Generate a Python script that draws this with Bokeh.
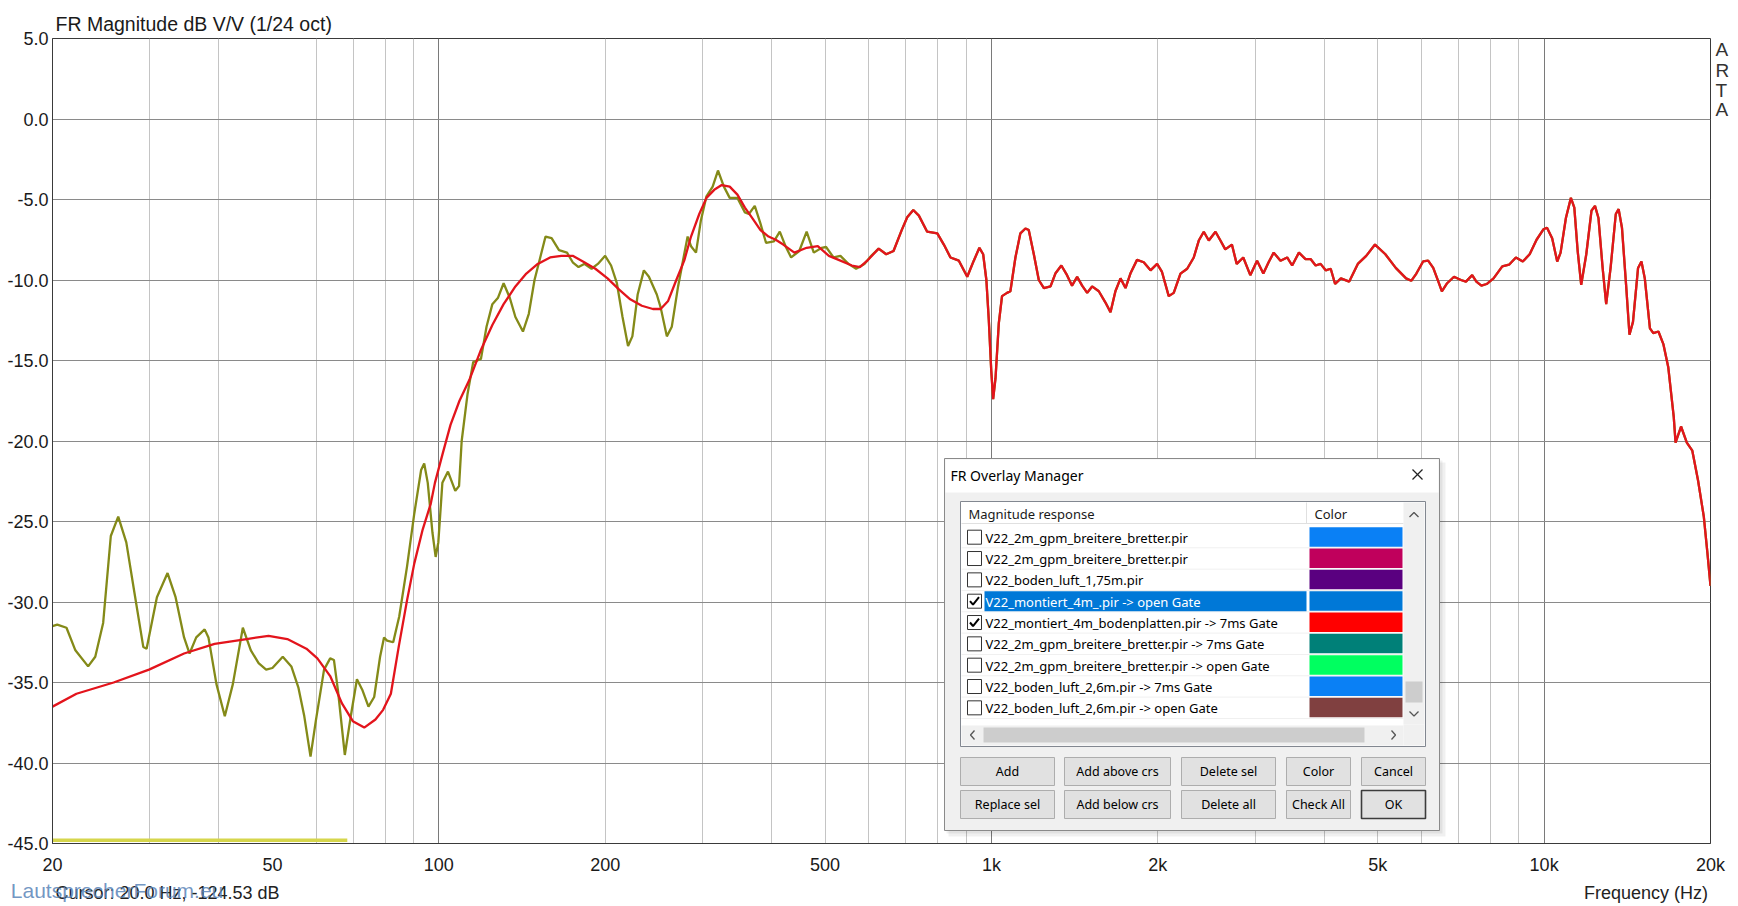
from bokeh.plotting import figure
from bokeh.models import FixedTicker, LinearAxis, LogAxis
from bokeh.core.properties import value
from bokeh.embed import file_html
from bokeh.resources import INLINE

# ---------------- data ----------------
# open-gate measurement (olive), low-frequency part
open_freq = [20, 20.4, 21.2, 22, 23.2, 23.9, 24.7, 25.5, 26.3, 27.2, 28.1, 29.2, 29.6, 30.9, 32.3,
             33.4, 34.6, 35.4, 36.4, 37.7, 38.3, 39.6, 41.0, 42.4, 44.2, 45.7, 47.2, 48.7, 50.0,
             52.2, 54.1, 55.7, 57.1, 58.6, 59.9, 62.0, 63.6, 64.6, 65.7, 67.6, 69.3, 71.1, 72.8,
             74.6, 76.4, 78.3, 79.6, 80.6, 82.7, 84.8, 87.6, 90.3, 92.9, 94.1, 95.5, 97.4, 98.7,
             99.8, 101.5, 103.9, 107.1, 108.8, 110, 112.7, 115.4, 119.2, 122, 125, 128, 131,
             134.4, 137.6, 142, 145.5, 149, 152.6, 156, 160, 165, 170.6, 174.7, 179, 183.3, 189,
             194, 200, 205, 210, 215, 220, 224, 229, 235, 240, 248, 252, 258.6, 264, 271, 278,
             282, 286, 292, 298, 305, 313, 320, 328, 336, 347, 358, 364, 373, 382, 391, 404, 414,
             424, 434, 449, 463, 477, 493, 502, 518, 533, 551, 569, 589, 606]
open_db = [-31.5, -31.4, -31.6, -33.0, -34.0, -33.4, -31.3, -25.9, -24.7, -26.3, -29.3, -32.8, -32.9,
           -29.7, -28.2, -29.7, -32.2, -33.2, -32.2, -31.7, -32.2, -35.1, -37.1, -35.1, -31.6,
           -33.0, -33.8, -34.2, -34.1, -33.4, -34.0, -35.3, -37.1, -39.6, -37.4, -34.2, -33.5,
           -33.6, -35.5, -39.5, -37.1, -34.8, -35.5, -36.5, -35.9, -33.4, -32.2, -32.4, -32.5,
           -30.9, -27.8, -24.5, -21.8, -21.4, -22.6, -25.7, -27.2, -26.3, -22.6, -21.9, -23.1,
           -22.8, -20.0, -17.1, -15.1, -14.9, -12.9, -11.5, -11.1, -10.2, -11.1, -12.3, -13.2,
           -12.1, -10.0, -8.6, -7.3, -7.4, -8.15, -8.3, -8.9, -9.2, -9.0, -9.3, -9.0, -8.5, -9.1,
           -10.2, -12.3, -14.1, -13.5, -10.9, -9.4, -9.8, -10.9, -11.7, -13.5, -12.9, -10.4,
           -8.4, -7.3, -7.9, -8.3, -6.3, -4.8, -4.2, -3.2, -4.2, -4.9, -4.9, -5.8, -5.9, -5.4,
           -6.5, -7.7, -7.6, -7.0, -7.9, -8.6, -8.2, -7.0, -8.3, -8.0, -7.95, -8.6, -8.5, -9.0,
           -9.3, -9.0, -8.5]

# 7 ms gated measurement (red), low-frequency part
gated_freq = [20, 22.1, 25.8, 29.9, 34.6, 39.3, 44.9, 49.2, 53.2, 57.6, 60.3, 63.6, 66.8, 69.9,
              73.3, 76.8, 79.3, 81.9, 84.6, 87.6, 90.3, 93.5, 96.7, 98.4, 101.6, 105, 109, 113.6,
              119, 125, 131, 137.6, 144, 151, 159, 166.6, 174.7, 183.3, 192, 202, 212, 222, 233,
              244, 252, 260, 269, 278, 286, 296, 305, 315, 325, 336, 347, 358, 370, 382, 395, 407,
              420, 440, 463, 485, 508, 533, 559, 578, 596]
gated_db = [-36.5, -35.7, -35.0, -34.2, -33.2, -32.6, -32.3, -32.1, -32.3, -32.9, -33.5, -34.6, -36.3,
            -37.4, -37.8, -37.3, -36.7, -35.7, -32.8, -29.9, -27.6, -25.5, -23.9, -22.6, -20.8,
            -19.0, -17.5, -16.2, -14.4, -12.8, -11.5, -10.4, -9.6, -9.0, -8.6, -8.5, -8.5, -8.9,
            -9.3, -9.9, -10.6, -11.2, -11.6, -11.8, -11.8, -11.3, -10.0, -8.8, -7.3, -5.9, -4.9,
            -4.4, -4.1, -4.2, -4.7, -5.5, -6.2, -6.9, -7.3, -7.5, -7.8, -8.3, -8.0, -7.9, -8.5,
            -8.8, -9.1, -9.2, -8.8]

# above ~600 Hz both measurements coincide
common_freq = [625, 645, 665, 688, 704, 722, 739, 765, 798, 820, 843, 873, 904, 929, 951, 966, 979,
               989, 999, 1007, 1017, 1031, 1045, 1067, 1082, 1105, 1128, 1152, 1168, 1193, 1218,
               1244, 1279, 1305, 1338, 1370, 1399, 1429, 1459, 1490, 1521, 1564, 1608, 1642, 1676,
               1712, 1748, 1784, 1834, 1886, 1940, 1994, 2035, 2093, 2137, 2198, 2260, 2323, 2372,
               2422, 2473, 2543, 2596, 2649, 2723, 2778, 2855, 2940, 3024, 3104, 3173, 3241, 3334,
               3428, 3500, 3600, 3700, 3779, 3860, 3940, 4025, 4110, 4186, 4288, 4440, 4601, 4765,
               4943, 5161, 5389, 5626, 5748, 5873, 6039, 6168, 6300, 6436, 6531, 6676, 6870, 7070,
               7220, 7410, 7540, 7700, 7870, 8100, 8400, 8640, 8890, 9150, 9415, 9690, 9970, 10120,
               10340, 10560, 10710, 10950, 11180, 11340, 11500, 11670, 11920, 12180, 12360, 12540,
               12760, 12950, 13190, 13480, 13640, 13830, 14070, 14270, 14480, 14790, 15000, 15210,
               15540, 15760, 16100, 16440, 16770, 17160, 17290, 17690, 18120, 18540, 18990, 19450,
               19750, 20000]
common_db = [-8.05, -8.4, -8.2, -6.9, -6.1, -5.65, -6.0, -7.0, -7.1, -7.8, -8.6, -8.8, -9.8, -8.8,
             -8.0, -8.4, -10.0, -12.5, -15.6, -17.4, -16.1, -12.7, -11.0, -10.8, -10.7, -8.6,
             -7.1, -6.8, -6.9, -8.4, -10.0, -10.5, -10.4, -9.6, -9.1, -9.7, -10.35, -9.8, -10.35,
             -10.8, -10.4, -10.7, -11.4, -12.0, -10.7, -9.9, -10.5, -9.6, -8.75, -8.9, -9.4, -9.0,
             -9.5, -11.0, -10.8, -9.6, -9.3, -8.6, -7.55, -7.0, -7.55, -7.0, -7.55, -8.1, -7.8,
             -9.0, -8.6, -9.7, -8.8, -9.6, -8.9, -8.3, -8.8, -8.6, -9.1, -8.3, -8.7, -8.7, -9.1,
             -9.0, -9.4, -9.3, -10.25, -9.9, -10.1, -9.0, -8.5, -7.8, -8.4, -9.25, -9.9, -10.05,
             -9.6, -8.85, -8.8, -9.25, -10.1, -10.7, -10.2, -9.8, -10.0, -10.1, -9.7, -10.1,
             -10.35, -10.25, -9.9, -9.15, -9.05, -8.6, -8.85, -8.4, -7.5, -6.85, -6.75, -7.4,
             -8.85, -8.3, -6.15, -4.9, -5.5, -8.2, -10.3, -8.4, -5.7, -5.4, -6.15, -9.25, -11.5,
             -9.25, -5.9, -5.6, -6.75, -10.3, -13.4, -12.6, -9.25, -8.85, -9.9, -13.0, -13.3,
             -13.2, -14.0, -15.4, -18.5, -20.1, -19.1, -20.1, -20.6, -22.45, -24.7, -27.0, -29.0]

# noise-floor marker at the bottom
floor_freq = [20, 68.3]
floor_db = [-44.8, -44.8]

x_ticks = [20, 50, 100, 200, 500, 1000, 2000, 5000, 10000, 20000]
x_tick_labels = ["20", "50", "100", "200", "500", "1k", "2k", "5k", "10k", "20k"]
decade_lines = [100, 1000, 10000]
minor_lines = [30, 40, 60, 70, 80, 90, 200, 300, 400, 500, 600, 700, 800, 900,
               2000, 3000, 4000, 5000, 6000, 7000, 8000, 9000, 20000]
y_ticks = [-45, -40, -35, -30, -25, -20, -15, -10, -5, 0, 5]

title_text = "FR Magnitude dB V/V (1/24 oct)"
x_axis_title = "Frequency (Hz)"
cursor_text = "Cursor: 20.0 Hz, -124.53 dB"
brand_letters = ["A", "R", "T", "A"]
watermark_text = "LautsprecherForum.eu"

overlay_names = ["V22_2m_gpm_breitere_bretter.pir",
                 "V22_2m_gpm_breitere_bretter.pir",
                 "V22_boden_luft_1,75m.pir",
                 "V22_montiert_4m_.pir -> open Gate",
                 "V22_montiert_4m_bodenplatten.pir -> 7ms Gate",
                 "V22_2m_gpm_breitere_bretter.pir -> 7ms Gate",
                 "V22_2m_gpm_breitere_bretter.pir -> open Gate",
                 "V22_boden_luft_2,6m.pir -> 7ms Gate",
                 "V22_boden_luft_2,6m.pir -> open Gate"]
overlay_checked = [False, False, False, True, True, False, False, False, False]
overlay_colors = ["#0a80f5", "#c0005c", "#5a0080", "#0078d7", "#ff0000",
                  "#008078", "#00ff60", "#0a80f5", "#804040"]
selected_row = 3
buttons_row1 = ["Add", "Add above crs", "Delete sel", "Color", "Cancel"]
buttons_row2 = ["Replace sel", "Add below crs", "Delete all", "Check All", "OK"]

# ---------------- figure ----------------
FL, FR, FT, FB = 52.0, 1710.0, 38.0, 843.0   # frame edges in page pixels
FW, FH = FR - FL, FB - FT


def fx(px):
    return 20.0 * 1000.0 ** ((px - FL) / FW)


def fy(py):
    return 5.0 - (py - FT) / FH * 50.0


p = figure(frame_width=int(FW), frame_height=int(FH), x_axis_type="log",
           x_range=(20, 20000), y_range=(-45, 5),
           output_backend="svg", toolbar_location=None,
           min_border_left=52, min_border_top=38, min_border_right=20, min_border_bottom=40,
           background_fill_color="white", border_fill_color="white")

p.outline_line_color = "#3a3a3a"
p.outline_line_width = 1

AX_FONT = "Liberation Sans"

# title (left aligned above the frame)
p.title.text = title_text
p.title.align = "left"
p.title.offset = 3
p.title.standoff = 7
p.title.text_font = AX_FONT
p.title.text_font_size = "19.5px"
p.title.text_font_style = "normal"
p.title.text_color = "#1a1a1a"


def style_axis(ax, size="18px", color="#1a1a1a"):
    ax.major_tick_line_color = None
    ax.minor_tick_line_color = None
    ax.major_tick_out = 0
    ax.major_tick_in = 0
    ax.minor_tick_out = 0
    ax.minor_tick_in = 0
    ax.major_label_text_font = AX_FONT
    ax.major_label_text_font_size = size
    ax.major_label_text_color = color


for ax in (p.xaxis[0], p.yaxis[0]):
    style_axis(ax)
    ax.axis_line_color = "#3a3a3a"

p.xaxis.ticker = FixedTicker(ticks=x_ticks)
p.xaxis.major_label_overrides = {t: l for t, l in zip(x_ticks, x_tick_labels)}
p.xaxis.major_label_standoff = 11
p.yaxis.ticker = FixedTicker(ticks=y_ticks)
p.yaxis.major_label_overrides = {t: f"{t:.1f}" for t in y_ticks}
p.yaxis.major_label_standoff = 4

# second row below the frame: cursor read-out (left) and axis name (right)
cursor_pos = round(fx(167.0), 2)
xname_pos = round(fx(1645.5), 1)
ax2 = LogAxis(ticker=FixedTicker(ticks=[cursor_pos, xname_pos]),
              major_label_overrides={cursor_pos: cursor_text, xname_pos: x_axis_title},
              axis_line_color=None, major_label_standoff=5)
style_axis(ax2, color="#222222")
p.add_layout(ax2, "below")

# forum watermark, drawn over the same row (pulled up with a negative standoff)
mark_pos = round(fx(116.5), 2)
ax3 = LogAxis(ticker=FixedTicker(ticks=[mark_pos]),
              major_label_overrides={mark_pos: watermark_text},
              axis_line_color=None, major_label_standoff=-27)
style_axis(ax3, size="21px", color="#5a84b8")
ax3.major_label_text_alpha = 0.85
p.add_layout(ax3, "below")

# vertical "ARTA" mark at the right of the frame
arta_pos = [round(fy(v), 2) for v in (49.5, 69.5, 89.5, 109.5)]
ax_r = LinearAxis(ticker=FixedTicker(ticks=arta_pos),
                  major_label_overrides={t: s for t, s in zip(arta_pos, brand_letters)},
                  axis_line_color=None, major_label_standoff=5)
style_axis(ax_r, size="19px", color="#333333")
p.add_layout(ax_r, "right")

p.xgrid.ticker = FixedTicker(ticks=decade_lines, minor_ticks=minor_lines)
p.xgrid.grid_line_color = "#7a7a7a"
p.xgrid.minor_grid_line_color = "#c4c4c4"
p.ygrid.ticker = FixedTicker(ticks=y_ticks)
p.ygrid.grid_line_color = "#8a8a8a"

# curves
p.line(floor_freq, floor_db, line_color="#d6d64c", line_width=3.5)
p.line(open_freq + common_freq, open_db + common_db, line_color="#848a18", line_width=2.3)
p.line(gated_freq + common_freq, gated_db + common_db, line_color="#e3141c", line_width=2.3)

# ---------------- overlay manager dialog ----------------
UI = "Noto Sans"


def box(l, t, r, b, fill, line=None, lw=1.0, alpha=1.0):
    p.quad(left=fx(l), right=fx(r), top=fy(t), bottom=fy(b), fill_color=fill,
           fill_alpha=alpha, line_color=line, line_width=lw)


def txt(px, py, s, size="13px", color="#000000", align="left"):
    p.text(x=[fx(px)], y=[fy(py)], text=[s], text_font=value(UI), text_font_size=value(size),
           text_color=color, text_align=align, text_baseline="middle")


def poly(pts, color="#333333", lw=1.3):
    p.line([fx(a) for a, _ in pts], [fy(b) for _, b in pts], line_color=color, line_width=lw)


# shadow + body
box(948, 462, 1445, 836, "#000000", alpha=0.06)
box(946, 460, 1442, 833, "#000000", alpha=0.06)
box(944, 458, 1439, 830, "#f0f0f0", line="#8a8a8a")
box(945, 459, 1438, 492, "#ffffff")
txt(950, 474.5, "FR Overlay Manager", size="14px", color="#000000")
poly([(1412, 469), (1422, 479)], color="#222222", lw=1.2)
poly([(1412, 479), (1422, 469)], color="#222222", lw=1.2)

# list box
box(960, 501, 1425, 746, "#ffffff", line="#828790")
poly([(961, 523), (1403, 523)], color="#e0e0e0", lw=1)
poly([(1306, 502), (1306, 523)], color="#e0e0e0", lw=1)
txt(968, 513, "Magnitude response", size="13px", color="#1a1a1a")
txt(1314, 513, "Color", size="13px", color="#1a1a1a")

ROW0, ROWH = 536.7, 21.33
for i, (name, chk, col) in enumerate(zip(overlay_names, overlay_checked, overlay_colors)):
    yc = ROW0 + ROWH * i
    poly([(961, yc + 10.6), (1403, yc + 10.6)], color="#f0f0f0", lw=1)
    if i == selected_row:
        box(984, yc - 10, 1306, yc + 10, "#0078d7")
    box(1309, yc - 10, 1402, yc + 9.5, col)
    box(967, yc - 7, 981, yc + 7, "#ffffff", line="#333333")
    if chk:
        poly([(969.5, yc), (972.5, yc + 3.5), (978.5, yc - 4)], color="#000000", lw=2)
    txt(985, yc + 0.5, name, size="13px",
        color="#ffffff" if i == selected_row else "#000000")

# scroll bars
box(1403, 502, 1424, 724, "#f0f0f0")
box(1405, 681, 1422, 702, "#cdcdcd")
poly([(1409, 516.5), (1413.5, 512), (1418, 516.5)], color="#555555", lw=1.3)
poly([(1409, 711), (1413.5, 715.5), (1418, 711)], color="#555555", lw=1.3)
box(961, 725, 1403, 745, "#f0f0f0")
box(1403, 724, 1424, 745, "#f0f0f0")
box(983, 727, 1364, 742, "#cdcdcd")
poly([(974, 730), (970, 734.5), (974, 739)], color="#555555", lw=1.3)
poly([(1391, 730), (1395, 734.5), (1391, 739)], color="#555555", lw=1.3)

# buttons
cols = [(960, 1054), (1064, 1170), (1181, 1275), (1286, 1350), (1361, 1425)]
for (top, bot), labels in (((757, 785), buttons_row1), ((790, 818), buttons_row2)):
    for (l, r), lab in zip(cols, labels):
        is_ok = lab == "OK"
        box(l, top, r, bot, "#e1e1e1", line="#3c3c3c" if is_ok else "#adadad",
            lw=1.6 if is_ok else 1.0)
        txt((l + r) / 2, (top + bot) / 2, lab, size="12.5px", color="#000000", align="center")

open("out.html", "w").write(file_html(p, INLINE))
